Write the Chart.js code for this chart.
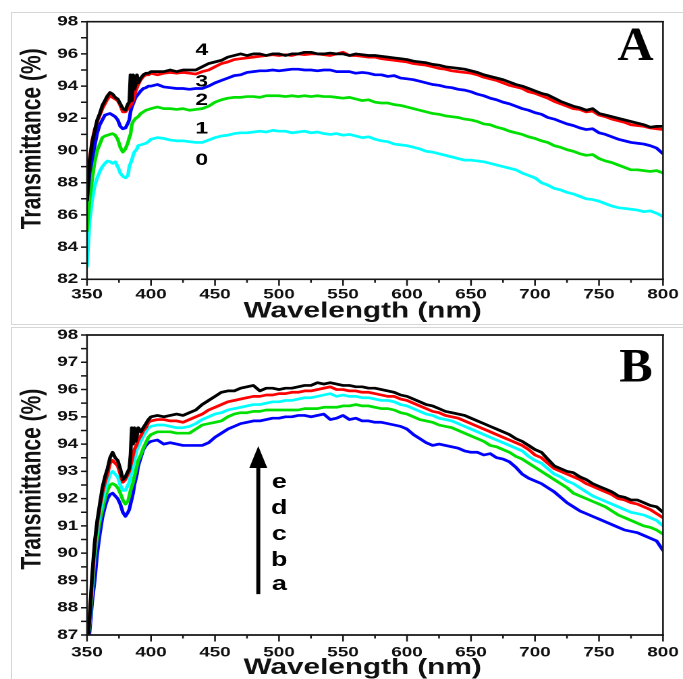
<!DOCTYPE html>
<html><head><meta charset="utf-8">
<script src="https://cdn.jsdelivr.net/npm/chart.js@4.4.1/dist/chart.umd.min.js"></script>
<style>
html,body{margin:0;padding:0;background:#fff;width:683px;height:679px;overflow:hidden;position:relative;}
.frame{position:absolute;border:1px solid #d6d6d6;}
.wrap{position:absolute;left:0;transform-origin:0 0;}
canvas{display:block;}
</style></head><body>
<div class="frame" style="left:11px;top:12px;width:700px;height:311px;"></div>
<div class="frame" style="left:11px;top:327px;width:700px;height:400px;"></div>
<div class="wrap" id="wa" style="top:0;"><canvas id="ca" width="506" height="330"></canvas></div>
<div class="wrap" id="wb" style="top:320px;"><canvas id="cb" width="506" height="370"></canvas></div>
<script>
// ---------- data ----------
const wavelength = [350,352,354,356,358,360,362,364,366,368,370,372,374,376,378,380,382,383,384,385,386,387,388,389,390,392,394,396,398,400,
405,410,415,420,425,430,435,440,445,450,455,460,465,470,475,480,485,490,495,500,
505,510,515,520,525,530,535,540,545,550,555,560,565,570,575,580,585,590,595,600,
605,610,615,620,625,630,635,640,645,650,655,660,665,670,675,680,685,690,695,700,
705,710,715,720,725,730,735,740,745,750,755,760,765,770,775,780,785,790,795,800];

// Panel A
const seriesA4 = [86.9,89.3,90.5,91.2,91.9,92.3,92.8,93.1,93.4,93.6, 93.5,93.3,93.2,92.9,92.6,92.5,92.9,93.0,94.7,93.1, 94.7,93.8,94.1,94.7,94.2,94.5,94.7,94.8,94.8,94.9,
94.9,94.9,95.0,94.9,95.0,95.0,95.0,95.2,95.4,95.5, 95.6,95.8,95.9,96.0,95.9,96.0,96.0,95.9,96.0,96.0,
95.9,96.0,96.0,96.1,96.1,96.0,96.0,96.05,96.0,96.0, 95.9,96.0,95.95,95.9,95.9,95.85,95.8,95.75,95.7,95.65,
95.55,95.5,95.45,95.35,95.3,95.2,95.15,95.1,95.05,94.95, 94.85,94.7,94.6,94.5,94.4,94.25,94.1,94.0,93.85,93.7,
93.55,93.45,93.25,93.05,92.9,92.75,92.65,92.5,92.6,92.3, 92.2,92.1,92.0,91.9,91.8,91.7,91.6,91.45,91.5,91.5];
const seriesA3 = [87.3,89.4,90.6,91.3,91.8,92.2,92.6,92.9,93.2,93.4, 93.3,93.2,93.1,92.8,92.4,92.4,92.6,92.7,92.8,92.9, 93.1,93.4,93.7,93.9,94.1,94.4,94.6,94.7,94.7,94.8,
94.7,94.8,94.85,94.8,94.85,94.8,94.75,94.9,95.0,95.2, 95.4,95.5,95.65,95.7,95.75,95.8,95.85,95.9,95.95,95.9,
95.95,95.9,96.0,95.95,96.0,96.0,95.95,95.9,96.0,96.1, 95.9,95.9,95.85,95.8,95.8,95.7,95.65,95.6,95.55,95.5,
95.4,95.35,95.3,95.2,95.1,95.05,94.95,94.9,94.85,94.8, 94.7,94.55,94.45,94.35,94.2,94.05,93.95,93.85,93.65,93.55,
93.4,93.25,93.05,92.9,92.75,92.6,92.55,92.4,92.45,92.2, 92.1,91.95,91.85,91.75,91.6,91.55,91.5,91.4,91.35,91.3];
const seriesA2 = [86.9,88.6,89.5,90.3,91.1,91.6,91.9,92.2,92.25,92.3, 92.2,92.1,91.9,91.5,91.35,91.4,91.7,91.9,92.4,92.7, 92.9,93.1,93.3,93.4,93.5,93.7,93.85,93.9,94.0,94.0,
94.1,93.95,93.9,93.85,93.85,93.8,93.85,93.85,94.0,94.2, 94.35,94.5,94.65,94.7,94.85,94.9,94.95,94.95,95.0,94.95,
95.0,95.05,95.05,95.0,95.0,94.95,95.0,95.0,94.9,94.9, 94.9,94.8,94.85,94.8,94.7,94.7,94.6,94.65,94.5,94.45,
94.4,94.3,94.2,94.1,94.05,93.95,93.9,93.8,93.75,93.65, 93.5,93.4,93.25,93.15,93.0,92.9,92.75,92.6,92.5,92.35,
92.25,92.05,91.95,91.8,91.65,91.55,91.4,91.3,91.35,91.1, 91.0,90.85,90.7,90.6,90.5,90.45,90.4,90.3,90.15,89.8];
const seriesA1 = [85.0,87.0,88.2,89.3,90.0,90.4,90.8,90.9,90.95,91.0, 91.05,90.95,90.7,90.2,89.9,90.1,90.5,90.8,91.0,91.6, 91.8,91.9,92.0,92.05,92.1,92.3,92.4,92.5,92.55,92.6,
92.7,92.6,92.6,92.55,92.6,92.5,92.55,92.6,92.75,93.0, 93.15,93.25,93.3,93.3,93.35,93.35,93.3,93.4,93.4,93.4,
93.35,93.4,93.35,93.4,93.35,93.4,93.35,93.35,93.3,93.25, 93.3,93.2,93.1,93.15,93.0,92.95,92.95,92.85,92.8,92.7,
92.6,92.5,92.4,92.3,92.25,92.15,92.1,92.05,91.95,91.9, 91.8,91.65,91.6,91.45,91.35,91.2,91.1,91.0,90.85,90.75,
90.6,90.5,90.3,90.2,90.05,89.95,89.8,89.7,89.75,89.5, 89.35,89.25,89.1,88.95,88.8,88.8,88.75,88.7,88.75,88.6];
const seriesA0 = [82.8,85.6,86.9,87.8,88.3,88.7,89.0,89.2,89.35,89.3, 89.2,89.3,89.0,88.6,88.4,88.3,88.45,89.0,89.2,89.4, 89.7,89.9,90.0,90.1,90.3,90.35,90.4,90.45,90.55,90.7,
90.8,90.75,90.65,90.6,90.6,90.55,90.5,90.5,90.65,90.8, 90.9,90.95,91.05,91.1,91.1,91.15,91.2,91.15,91.25,91.2,
91.2,91.1,91.15,91.2,91.1,91.15,91.05,91.0,91.05,90.95, 91.0,90.9,90.8,90.85,90.7,90.6,90.55,90.4,90.35,90.3,
90.2,90.1,89.95,89.9,89.8,89.7,89.6,89.5,89.4,89.4, 89.35,89.3,89.2,89.1,89.0,88.9,88.8,88.6,88.45,88.3,
88.0,87.85,87.65,87.55,87.4,87.3,87.15,87.0,86.95,86.85, 86.7,86.55,86.45,86.4,86.35,86.3,86.2,86.25,86.1,85.9];

// Panel B
const seriesBe = [86.5,87.6,89.2,90.4,91.2,91.8,92.4,92.8,93.1,93.5, 93.7,93.5,93.4,93.1,92.7,92.8,93.0,93.1,93.6,94.6, 94.0,94.6,94.1,94.3,94.6,94.45,94.6,94.75,94.9,95.0,
95.05,95.0,95.05,95.1,95.05,95.15,95.25,95.45,95.6,95.75, 95.9,95.95,95.95,96.05,96.1,96.15,95.95,96.05,96.05,96.0,
96.05,96.05,96.1,96.15,96.15,96.25,96.2,96.25,96.2,96.15, 96.15,96.1,96.1,96.05,96.05,96.0,95.95,95.9,95.8,95.75,
95.65,95.55,95.45,95.4,95.3,95.2,95.15,95.1,95.05,94.95, 94.85,94.75,94.65,94.55,94.45,94.35,94.2,94.1,93.95,93.8,
93.7,93.45,93.2,93.1,93.0,92.95,92.8,92.7,92.55,92.45, 92.35,92.25,92.1,92.05,91.95,91.95,91.85,91.75,91.7,91.5];
const seriesBd = [86.5,87.6,89.0,90.3,91.1,91.7,92.2,92.6,92.9,93.3, 93.4,93.3,93.2,92.9,92.6,92.7,92.9,93.0,93.2,93.4, 93.6,93.8,93.9,94.0,94.15,94.3,94.5,94.6,94.8,94.85,
94.9,94.9,94.85,94.85,94.8,94.9,95.0,95.1,95.25,95.35, 95.45,95.55,95.6,95.65,95.7,95.75,95.75,95.8,95.8,95.85,
95.85,95.9,95.9,95.95,95.95,96.0,96.05,96.1,96.0,96.0, 95.95,95.95,95.9,95.9,95.85,95.8,95.75,95.75,95.65,95.6,
95.5,95.4,95.3,95.2,95.15,95.05,95.0,94.95,94.85,94.75, 94.65,94.55,94.45,94.35,94.25,94.15,94.05,93.95,93.8,93.6,
93.5,93.3,93.1,93.0,92.9,92.8,92.7,92.55,92.45,92.35, 92.25,92.15,92.0,91.95,91.85,91.8,91.7,91.6,91.45,91.3];
const seriesBc = [86.5,87.5,88.8,90.2,90.9,91.5,91.9,92.3,92.6,92.9, 93.0,92.9,92.8,92.5,92.3,92.3,92.5,92.6,92.8,93.0, 93.2,93.4,93.6,93.8,93.9,94.1,94.3,94.45,94.6,94.65,
94.7,94.7,94.65,94.6,94.6,94.65,94.75,94.9,95.0,95.1, 95.15,95.25,95.3,95.35,95.4,95.45,95.45,95.5,95.55,95.55,
95.6,95.6,95.65,95.7,95.7,95.75,95.8,95.85,95.75,95.8, 95.75,95.75,95.7,95.7,95.65,95.6,95.6,95.55,95.45,95.4,
95.3,95.2,95.1,95.05,94.95,94.9,94.85,94.75,94.65,94.55, 94.45,94.35,94.25,94.15,94.05,93.95,93.85,93.75,93.55,93.4,
93.3,93.1,92.9,92.8,92.65,92.55,92.4,92.25,92.1,92.0, 91.9,91.8,91.7,91.6,91.5,91.45,91.4,91.3,91.2,91.0];
const seriesBb = [86.5,87.4,88.6,89.9,90.6,91.2,91.6,92.0,92.3,92.5, 92.55,92.5,92.4,92.2,91.95,91.8,91.9,92.1,92.3,92.45, 92.6,92.8,93.0,93.2,93.4,93.6,93.85,94.05,94.25,94.35,
94.45,94.45,94.45,94.4,94.4,94.4,94.55,94.7,94.75,94.8, 94.85,95.0,95.1,95.15,95.15,95.2,95.2,95.25,95.25,95.25,
95.25,95.25,95.25,95.3,95.3,95.3,95.35,95.35,95.35,95.4, 95.4,95.45,95.4,95.4,95.35,95.3,95.3,95.25,95.15,95.1,
95.0,94.9,94.85,94.8,94.7,94.65,94.6,94.5,94.4,94.3, 94.2,94.1,93.95,93.9,93.8,93.7,93.55,93.45,93.3,93.15,
93.0,92.85,92.7,92.55,92.4,92.2,92.1,92.0,91.9,91.8, 91.7,91.55,91.4,91.3,91.2,91.1,91.0,90.95,90.85,90.7];
const seriesBa = [86.5,87.1,88.2,89.0,90.0,90.7,91.3,91.7,92.0,92.15, 92.2,92.1,92.0,91.8,91.5,91.35,91.5,91.6,91.8,92.0, 92.2,92.5,92.7,92.9,93.2,93.5,93.8,93.95,94.05,94.1,
94.15,94.0,94.05,94.0,93.95,93.95,93.95,93.95,94.05,94.25, 94.4,94.55,94.65,94.75,94.8,94.85,94.85,94.9,94.95,94.95,
95.0,95.0,95.05,95.05,95.0,95.05,95.1,94.9,94.95,95.05, 94.9,94.95,94.85,94.85,94.8,94.8,94.75,94.7,94.65,94.55,
94.35,94.2,94.05,93.95,94.0,93.95,93.9,93.85,93.75,93.7, 93.7,93.6,93.65,93.5,93.45,93.35,93.15,92.9,92.75,92.65,
92.55,92.4,92.25,92.05,91.85,91.7,91.55,91.45,91.35,91.25, 91.15,91.05,90.95,90.85,90.8,90.75,90.65,90.55,90.45,90.1];

const xTickStep = 50;
const yRangeA = [82, 98], yStepA = 2;
const yRangeB = [87, 98], yStepB = 1;
const labelsA = ['4','3','2','1','0'];
const labelsB = ['e','d','c','b','a'];
const xTitle = 'Wavelength (nm)';
const yTitle = 'Transmittance (%)';

// ---------- annotation placement ----------
const labelAX = 439.6, labelAY = [95.93, 93.96, 92.83, 91.07, 89.1];
const labelBX = 500.2, labelBY = [92.39, 91.44, 90.48, 89.53, 88.65];
const arrowB = {x: 483.8, from: 88.5, to: 93.93};

// ---------- rendering ----------
const S = 683 / 506;          // horizontal stretch of the original figure
const FONT = "'Liberation Sans', Arial, Helvetica, sans-serif";
const NB = '\u00A0';
document.getElementById('wa').style.transform = `scaleX(${S})`;
document.getElementById('wb').style.transform = `scaleX(${S})`;

const boxPlugin = {
  id: 'boxPlugin',
  afterDatasetsDraw(chart, args, o) {
    const {ctx, chartArea: a, scales: {x, y}} = chart;
    ctx.save();
    ctx.strokeStyle = '#151515';
    ctx.lineCap = 'butt';
    ctx.lineWidth = 1.7;
    ctx.beginPath();
    ctx.moveTo(a.left - 1/S, a.top); ctx.lineTo(a.right + 1/S, a.top);
    ctx.moveTo(a.left - 1/S, a.bottom); ctx.lineTo(a.right + 1/S, a.bottom);
    ctx.stroke();
    ctx.lineWidth = 1.7 / S;
    ctx.beginPath();
    ctx.moveTo(a.left, a.top); ctx.lineTo(a.left, a.bottom);
    ctx.moveTo(a.right, a.top); ctx.lineTo(a.right, a.bottom);
    for (let v = x.min; v <= x.max + 1e-6; v += o.xMinor) {
      const px = x.getPixelForValue(v);
      const major = Math.abs(v / o.xMajor - Math.round(v / o.xMajor)) < 1e-6;
      ctx.moveTo(px, a.bottom); ctx.lineTo(px, a.bottom + (major ? 6.5 : 3.5));
    }
    ctx.stroke();
    ctx.lineWidth = 1.5;
    ctx.beginPath();
    for (let v = y.min; v <= y.max + 1e-6; v += o.yMinor) {
      const py = y.getPixelForValue(v);
      ctx.moveTo(a.left, py); ctx.lineTo(a.left - 6 / S, py);
    }
    ctx.stroke();
    ctx.restore();
  }
};

const notePlugin = {
  id: 'notePlugin',
  afterDatasetsDraw(chart, args, o) {
    const {ctx, scales: {x, y}} = chart;
    ctx.save();
    ctx.fillStyle = '#000';
    ctx.strokeStyle = '#000';
    ctx.textAlign = 'center';
    ctx.textBaseline = 'alphabetic';
    ctx.font = `bold ${o.size}px ${FONT}`;
    o.texts.forEach((t, i) => ctx.fillText(t, x.getPixelForValue(o.tx), y.getPixelForValue(o.ty[i])));
    if (o.arrow) {
      const ax = x.getPixelForValue(o.arrow.x);
      const yb = y.getPixelForValue(o.arrow.from);
      const yt = y.getPixelForValue(o.arrow.to);
      const headH = 22;
      ctx.lineWidth = 4 / S;
      ctx.beginPath(); ctx.moveTo(ax, yb); ctx.lineTo(ax, yt + headH - 2); ctx.stroke();
      ctx.beginPath();
      ctx.moveTo(ax, yt); ctx.lineTo(ax - 9 / S, yt + headH); ctx.lineTo(ax + 9 / S, yt + headH);
      ctx.closePath(); ctx.fill();
    }
    // panel letter (serif, not stretched)
    ctx.save();
    ctx.translate(o.letterX / S, o.letterY);
    ctx.scale(1.04 / S, 1);
    ctx.font = "bold 48px 'Liberation Serif', 'Times New Roman', serif";
    ctx.textAlign = 'center';
    ctx.fillText(o.letter, 0, 0);
    ctx.restore();
    ctx.restore();
  }
};

function toXY(arr) { return wavelength.map((w, i) => ({x: w, y: arr[i]})); }
function ds(arr, color) {
  return {data: toXY(arr), borderColor: color, backgroundColor: color, borderWidth: 2.7,
          borderJoinStyle: 'round', borderCapStyle: 'round',
          pointRadius: 0, tension: 0, fill: false};
}

function makeOptions(cfg) {
  return {
    responsive: false, animation: false, devicePixelRatio: 2,
    events: [],
    layout: {padding: {left: 0, right: 506 - 663 / S, top: cfg.top, bottom: 0}},
    plugins: {
      legend: {display: false}, tooltip: {enabled: false},
      boxPlugin: {xMinor: 25, xMajor: xTickStep, yMinor: cfg.yMinor},
      notePlugin: cfg.notes
    },
    scales: {
      x: {
        type: 'linear', min: 350, max: 800,
        afterFit: s => { s.height = cfg.xHeight; s.paddingLeft = 0; s.paddingRight = 0; },
        grid: {display: false, drawTicks: false}, border: {display: false},
        ticks: {stepSize: xTickStep, padding: cfg.xTickPad, color: '#111', maxRotation: 0, autoSkip: false,
                font: {family: FONT, weight: 'bold', size: 14}},
        title: {display: true, text: xTitle + NB + NB + NB, color: '#111', padding: {top: 0, bottom: cfg.xTitlePad},
                font: {family: FONT, weight: 'bold', size: 22}}
      },
      y: {
        min: cfg.yRange[0], max: cfg.yRange[1],
        afterFit: s => { s.width = 87 / S; s.paddingTop = 0; s.paddingBottom = 0; },
        grid: {display: false, drawTicks: false}, border: {display: false},
        ticks: {stepSize: cfg.yStep, padding: 6.5, color: '#111', autoSkip: false,
                font: {family: FONT, weight: 'bold', size: 14}},
        title: {display: true, text: NB.repeat(cfg.yLead) + yTitle, color: '#111', padding: {top: 11.6, bottom: 0},
                font: {family: FONT, weight: 'bold', size: 21}}
      }
    }
  };
}

new Chart(document.getElementById('ca'), {
  type: 'line',
  data: {datasets: [
    ds(seriesA4, '#000000'), ds(seriesA3, '#ff0000'), ds(seriesA2, '#0000ff'),
    ds(seriesA1, '#00e000'), ds(seriesA0, '#00ffff')
  ]},
  options: makeOptions({
    top: 21.7, xHeight: 330 - 279.3, xTickPad: 7, xTitlePad: 5.3, yLead: 4,
    yRange: yRangeA, yStep: yStepA, yMinor: 1,
    notes: {texts: labelsA, tx: labelAX, ty: labelAY, size: 17, letter: 'A', letterX: 635.5, letterY: 60}
  }),
  plugins: [boxPlugin, notePlugin]
});

new Chart(document.getElementById('cb'), {
  type: 'line',
  data: {datasets: [
    ds(seriesBe, '#000000'), ds(seriesBd, '#ff0000'), ds(seriesBc, '#00ffff'),
    ds(seriesBb, '#00e000'), ds(seriesBa, '#0000ff')
  ]},
  options: makeOptions({
    top: 15, xHeight: 370 - 315, xTickPad: 9.1, xTitlePad: 8.8, yLead: 2,
    yRange: yRangeB, yStep: yStepB, yMinor: 0.5,
    notes: {texts: labelsB, tx: labelBX, ty: labelBY, size: 20, arrow: arrowB, letter: 'B', letterX: 636, letterY: 61.7}
  }),
  plugins: [boxPlugin, notePlugin]
});
</script>
</body></html>
